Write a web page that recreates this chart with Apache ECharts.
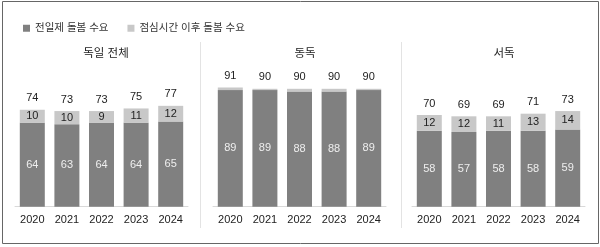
<!DOCTYPE html>
<html lang="ko">
<head>
  <meta charset="UTF-8">
  <title>돌봄 수요</title>
  <script src="https://cdn.jsdelivr.net/npm/echarts@6/dist/echarts.min.js"></script>
  <style>
    * { margin: 0; padding: 0 }
    html, body { width: 100%; height: 100%; background: #fff; }
    #main { width: 600px; height: 247px; }
  </style>
</head>
<body>
  <div id="main"></div>
<script type="text/javascript">
  var years = ['2020', '2021', '2022', '2023', '2024'];
  var panels = ['독일 전체', '동독', '서독'];
  // 전일제 돌봄 수요
  var fullAll = [64, 63, 64, 64, 65];
  var fullEast = [89, 89, 88, 88, 89];
  var fullWest = [58, 57, 58, 58, 59];
  // 점심시간 이후 돌봄 수요
  var lunchAll = [10, 10, 9, 11, 12];
  var lunchEast = [2, 1, 2, 2, 1];
  var lunchWest = [12, 12, 11, 13, 14];
  // 합계
  var totalAll = [74, 73, 73, 75, 77];
  var totalEast = [91, 90, 90, 90, 90];
  var totalWest = [70, 69, 69, 71, 73];

  var fullData = [fullAll, fullEast, fullWest];
  var lunchData = [lunchAll, lunchEast, lunchWest];
  var totalData = [totalAll, totalEast, totalWest];

  var font = "Arial, 'Liberation Sans', 'Noto Sans CJK KR', sans-serif";
  var gridLefts = [15, 213, 412];
  var centers = [101, 300, 499];

  var grids = [], xAxes = [], yAxes = [], titles = [], series = [];
  for (var i = 0; i < 3; i++) {
    grids.push({left: gridLefts[i], top: 75.7, width: 173, height: 131});
    xAxes.push({
      type: 'category', gridIndex: i, data: years,
      axisLine: {lineStyle: {color: '#d9d9d9'}},
      axisTick: {show: false},
      axisLabel: {interval: 0, color: '#222', fontSize: 11, margin: 8, fontFamily: font}
    });
    yAxes.push({type: 'value', gridIndex: i, min: 0, max: 100, show: false});
    titles.push({
      text: panels[i], left: centers[i], top: 43, textAlign: 'center',
      textStyle: {fontSize: 11.5, fontWeight: 'normal', color: '#222', fontFamily: font}
    });
    series.push({
      name: '전일제 돌봄 수요', type: 'bar', stack: 's' + i,
      xAxisIndex: i, yAxisIndex: i, barWidth: 25,
      data: fullData[i], itemStyle: {color: '#808080'},
      label: {show: true, position: 'inside', color: '#eeeeee', fontSize: 11, fontFamily: font}
    });
    series.push({
      name: '점심시간 이후 돌봄 수요', type: 'bar', stack: 's' + i,
      xAxisIndex: i, yAxisIndex: i, barWidth: 25,
      data: lunchData[i], itemStyle: {color: '#c8c8c8'},
      label: {show: i !== 1, position: 'inside', color: '#222', fontSize: 11, fontFamily: font}
    });
    series.push({
      name: 'total', type: 'bar', stack: 's' + i,
      xAxisIndex: i, yAxisIndex: i, barWidth: 25,
      data: [0, 0, 0, 0, 0], itemStyle: {color: 'transparent'},
      label: {
        show: true, position: 'top', distance: 6, color: '#222', fontSize: 11, fontFamily: font,
        formatter: (function (t) {
          return function (p) { return t[p.dataIndex]; };
        })(totalData[i])
      },
      silent: true
    });
  }

  var chart = echarts.init(document.getElementById('main'));
  chart.setOption({
    animation: false,
    title: titles,
    legend: {
      data: ['전일제 돌봄 수요', '점심시간 이후 돌봄 수요'],
      left: 18, top: 18, icon: 'rect', itemWidth: 7, itemHeight: 7, itemGap: 19,
      textStyle: {fontSize: 10.5, color: '#333', fontFamily: font}
    },
    grid: grids,
    xAxis: xAxes,
    yAxis: yAxes,
    series: series,
    graphic: [
      {type: 'rect', shape: {x: 2.5, y: 1.5, width: 596, height: 242}, style: {fill: 'none', stroke: '#666', lineWidth: 1}},
      {type: 'line', shape: {x1: 200.5, y1: 42, x2: 200.5, y2: 228}, style: {stroke: '#e3e3e3', lineWidth: 1}},
      {type: 'line', shape: {x1: 401.5, y1: 42, x2: 401.5, y2: 228}, style: {stroke: '#e3e3e3', lineWidth: 1}}
    ]
  });
</script>
</body>
</html>
